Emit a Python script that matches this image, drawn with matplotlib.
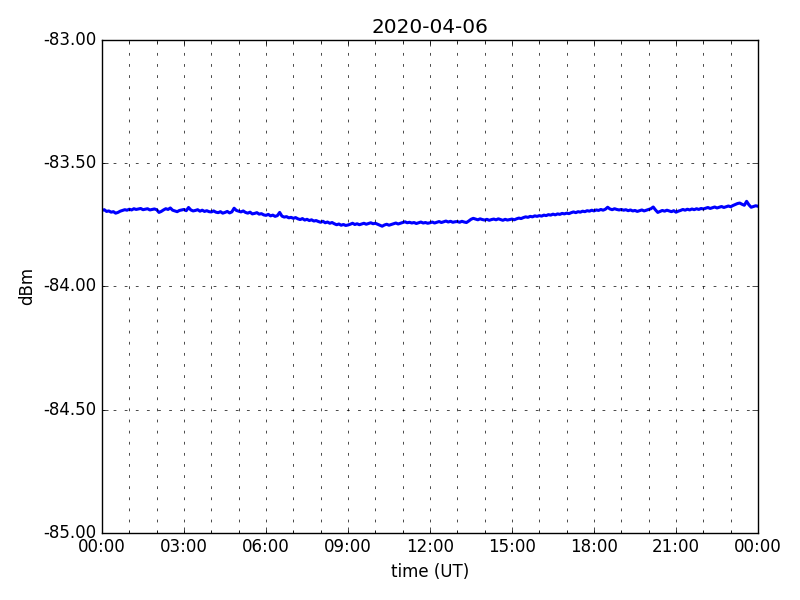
"""Daily received signal level plot (dBm vs UT time)."""

import matplotlib
matplotlib.use("Agg")
import matplotlib.dates as mdates
import matplotlib.pyplot as plt
import numpy as np
import pandas as pd
from matplotlib.ticker import FormatStrFormatter

plt.style.use("classic")

DAY = "2020-04-06"

# signal level, one value every 5 minutes, one row per hour (UT)
LEVEL_H00 = [-83.692, -83.689, -83.696, -83.694, -83.699, -83.697, -83.703, -83.700, -83.695, -83.692, -83.689, -83.691]
LEVEL_H01 = [-83.687, -83.690, -83.685, -83.688, -83.686, -83.684, -83.689, -83.687, -83.685, -83.690, -83.688, -83.686]
LEVEL_H02 = [-83.689, -83.700, -83.696, -83.690, -83.685, -83.688, -83.682, -83.691, -83.694, -83.697, -83.692, -83.690]
LEVEL_H03 = [-83.688, -83.693, -83.680, -83.690, -83.694, -83.692, -83.689, -83.695, -83.691, -83.696, -83.693, -83.697]
LEVEL_H04 = [-83.698, -83.694, -83.699, -83.701, -83.697, -83.703, -83.700, -83.696, -83.702, -83.698, -83.683, -83.692]
LEVEL_H05 = [-83.695, -83.698, -83.694, -83.700, -83.703, -83.699, -83.706, -83.704, -83.701, -83.707, -83.705, -83.710]
LEVEL_H06 = [-83.712, -83.708, -83.714, -83.711, -83.716, -83.713, -83.700, -83.715, -83.719, -83.717, -83.722, -83.720]
LEVEL_H07 = [-83.724, -83.721, -83.726, -83.729, -83.725, -83.731, -83.728, -83.733, -83.730, -83.735, -83.733, -83.737]
LEVEL_H08 = [-83.740, -83.736, -83.742, -83.739, -83.744, -83.741, -83.746, -83.750, -83.747, -83.752, -83.749, -83.753]
LEVEL_H09 = [-83.751, -83.748, -83.744, -83.749, -83.746, -83.750, -83.747, -83.744, -83.748, -83.745, -83.742, -83.746]
LEVEL_H10 = [-83.744, -83.748, -83.752, -83.756, -83.751, -83.748, -83.752, -83.749, -83.746, -83.743, -83.747, -83.744]
LEVEL_H11 = [-83.741, -83.738, -83.742, -83.740, -83.743, -83.741, -83.745, -83.742, -83.739, -83.743, -83.741, -83.744]
LEVEL_H12 = [-83.742, -83.739, -83.743, -83.740, -83.737, -83.741, -83.738, -83.735, -83.739, -83.736, -83.740, -83.738]
LEVEL_H13 = [-83.737, -83.740, -83.736, -83.739, -83.741, -83.735, -83.728, -83.724, -83.727, -83.730, -83.726, -83.729]
LEVEL_H14 = [-83.731, -83.728, -83.732, -83.729, -83.727, -83.730, -83.726, -83.729, -83.732, -83.728, -83.731, -83.729]
LEVEL_H15 = [-83.727, -83.730, -83.726, -83.723, -83.725, -83.721, -83.718, -83.720, -83.716, -83.718, -83.714, -83.716]
LEVEL_H16 = [-83.713, -83.715, -83.711, -83.713, -83.709, -83.711, -83.707, -83.710, -83.706, -83.708, -83.704, -83.706]
LEVEL_H17 = [-83.703, -83.705, -83.701, -83.698, -83.701, -83.697, -83.699, -83.695, -83.697, -83.693, -83.695, -83.691]
LEVEL_H18 = [-83.694, -83.690, -83.692, -83.688, -83.691, -83.687, -83.679, -83.686, -83.689, -83.685, -83.688, -83.690]
LEVEL_H19 = [-83.688, -83.691, -83.689, -83.693, -83.690, -83.694, -83.692, -83.696, -83.693, -83.690, -83.694, -83.691]
LEVEL_H20 = [-83.688, -83.685, -83.678, -83.690, -83.700, -83.696, -83.692, -83.695, -83.691, -83.694, -83.697, -83.693]
LEVEL_H21 = [-83.699, -83.695, -83.692, -83.688, -83.691, -83.687, -83.690, -83.686, -83.689, -83.685, -83.688, -83.684]
LEVEL_H22 = [-83.686, -83.683, -83.680, -83.684, -83.681, -83.678, -83.682, -83.679, -83.676, -83.680, -83.677, -83.674]
LEVEL_H23 = [-83.677, -83.672, -83.668, -83.664, -83.662, -83.667, -83.671, -83.655, -83.669, -83.679, -83.676, -83.673]
LEVEL_END = [-83.675]

Y_TICKS = [-85.0, -84.5, -84.0, -83.5, -83.0]


def all_levels():
    rows = [LEVEL_H00, LEVEL_H01, LEVEL_H02, LEVEL_H03, LEVEL_H04, LEVEL_H05,
            LEVEL_H06, LEVEL_H07, LEVEL_H08, LEVEL_H09, LEVEL_H10, LEVEL_H11,
            LEVEL_H12, LEVEL_H13, LEVEL_H14, LEVEL_H15, LEVEL_H16, LEVEL_H17,
            LEVEL_H18, LEVEL_H19, LEVEL_H20, LEVEL_H21, LEVEL_H22, LEVEL_H23,
            LEVEL_END]
    return np.concatenate([np.asarray(r) for r in rows])


levels = all_levels()
times = pd.date_range(DAY, periods=len(levels), freq="5min")

fig = plt.figure(figsize=(8, 6), dpi=100, facecolor="white")
ax = fig.add_subplot(111)
fig.subplots_adjust(left=0.1275, right=0.9475, top=0.9335, bottom=0.112)

ax.plot(times.to_pydatetime(), levels, "b-", linewidth=2.2)

start = pd.Timestamp(DAY)
ax.set_xlim(start.to_pydatetime(), (start + pd.Timedelta(days=1)).to_pydatetime())
ax.set_ylim(Y_TICKS[0], Y_TICKS[-1])

ax.xaxis.set_major_locator(mdates.HourLocator(interval=3))
ax.xaxis.set_minor_locator(mdates.HourLocator())
ax.xaxis.set_major_formatter(mdates.DateFormatter("%H:%M"))
ax.set_yticks(Y_TICKS)
ax.yaxis.set_major_formatter(FormatStrFormatter("%.2f"))

# old-style unscaled dots: 1pt on, 3pt off
ax.grid(True, which="both", color="k", linestyle=(0, (2, 6)), linewidth=0.5)

ax.set_title(DAY)
ax.set_xlabel("time (UT)")
ax.set_ylabel("dBm")

fig.savefig("out.png", dpi=100, facecolor="white")
